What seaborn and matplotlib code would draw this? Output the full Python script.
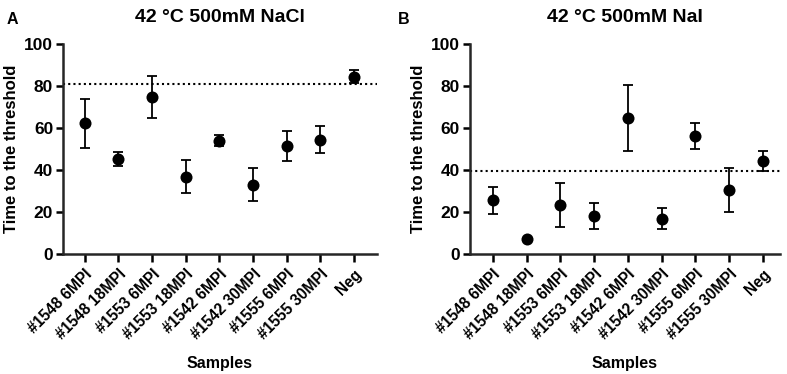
import numpy as np
import pandas as pd
import matplotlib
matplotlib.use("Agg")
import matplotlib.pyplot as plt
import seaborn as sns

# ------------------------- Data -------------------------

samples = ["#1548 6MPI", "#1548 18MPI", "#1553 6MPI", "#1553 18MPI",
           "#1542 6MPI", "#1542 30MPI", "#1555 6MPI", "#1555 30MPI", "Neg"]

nacl_mean = [62.2, 45.3, 74.9, 36.9, 54.0, 33.0, 51.4, 54.5, 84.5]
nacl_err = [11.7, 3.3, 9.9, 7.8, 2.5, 7.9, 7.0, 6.3, 3.0]
nacl_threshold = 80.8

nai_mean = [25.6, 7.0, 23.3, 18.1, 64.7, 16.8, 56.2, 30.4, 44.2]
nai_err = [6.5, 0.0, 10.3, 6.0, 15.6, 5.1, 6.3, 10.6, 4.7]
nai_threshold = 39.3

titles = ["42 °C 500mM NaCl", "42 °C 500mM NaI"]
panel_tags = ["A", "B"]

# ------------------------- Plot -------------------------

sns.set_style("ticks")
plt.rcParams["font.family"] = ["Liberation Sans", "DejaVu Sans"]
plt.rcParams["font.weight"] = "bold"
plt.rcParams["text.color"] = "black"
plt.rcParams["axes.labelcolor"] = "black"
plt.rcParams["xtick.color"] = "black"
plt.rcParams["ytick.color"] = "black"

fig = plt.figure(figsize=(7.87, 3.74), dpi=100)
ax1 = fig.add_axes([0.080, 0.321, 0.399, 0.561])
ax2 = fig.add_axes([0.597, 0.321, 0.394, 0.561])

panels = [
    (ax1, nacl_mean, nacl_err, nacl_threshold, (-0.65, 8.68)),
    (ax2, nai_mean, nai_err, nai_threshold, (-0.68, 8.5)),
]

for i, (ax, mean, err, thr, xlim) in enumerate(panels):
    df = pd.DataFrame({"Samples": samples, "Time": mean, "err": err})
    ax.errorbar(np.arange(len(samples)), df["Time"], yerr=df["err"],
                fmt="none", ecolor="black", elinewidth=1.3, capsize=3.6,
                capthick=1.3, zorder=2)
    sns.scatterplot(data=df, x="Samples", y="Time", ax=ax, color="black",
                    s=75, edgecolor="black", linewidth=0, zorder=3)
    ax.axhline(thr, color="black", linestyle=(0, (1, 1.5)), linewidth=1.5,
               zorder=1)

    ax.set_xlim(*xlim)
    ax.set_ylim(0, 100)
    ax.set_yticks([0, 20, 40, 60, 80, 100])
    ax.set_xticks(range(len(samples)))
    ax.set_xticklabels(samples, rotation=45, ha="right",
                       rotation_mode="anchor", fontsize=11.2, fontweight="bold")
    ax.tick_params(axis="y", labelsize=12.5, width=1.8, length=5, pad=2)
    ax.tick_params(axis="x", width=1.8, length=6, pad=3)
    for lab in ax.get_yticklabels():
        lab.set_fontweight("bold")

    ax.set_xlabel("Samples", fontsize=11.5, fontweight="bold", labelpad=10)
    ax.set_ylabel("Time to the threshold", fontsize=12, fontweight="bold",
                  labelpad=4)
    ax.set_title(titles[i], fontsize=14, fontweight="bold", pad=16)

    sns.despine(ax=ax)
    for side in ["left", "bottom"]:
        ax.spines[side].set_linewidth(1.8)

fig.text(0.008, 0.935, panel_tags[0], fontsize=11.5, fontweight="bold")
fig.text(0.505, 0.935, panel_tags[1], fontsize=11.5, fontweight="bold")

fig.savefig("out.png", dpi=100)
